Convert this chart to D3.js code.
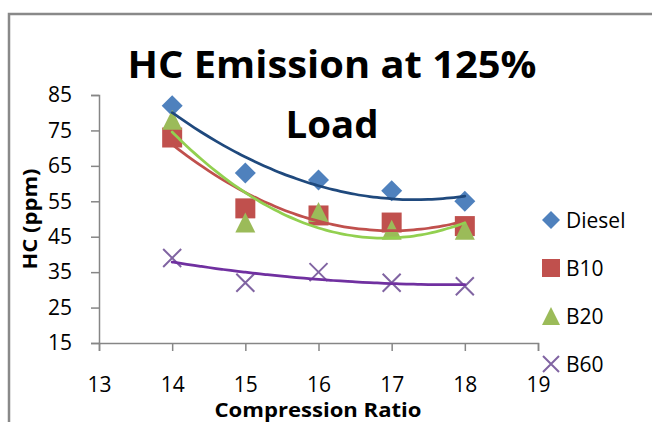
<!DOCTYPE html>
<html>
<head>
<meta charset="utf-8">
<script src="https://cdn.jsdelivr.net/npm/d3@7"></script>
<style>
  html, body { margin: 0; padding: 0; background: #fff; }
  svg { display: block; font-family: "Open Sans", "Liberation Sans", sans-serif; }
</style>
</head>
<body>
<svg id="chart" width="652" height="422"></svg>
<script>
// Compression ratios tested
const compressionRatio = [14, 15, 16, 17, 18];

// HC emission (ppm) at 125% load for each fuel
const dieselHC = [82, 63, 61, 58, 55];
const b10HC    = [73, 53, 51, 49, 48];
const b20HC    = [78, 49, 52, 47, 47];
const b60HC    = [39, 32, 35, 32, 31];

const seriesNames = ["Diesel", "B10", "B20", "B60"];
const yTicks = [15, 25, 35, 45, 55, 65, 75, 85];
const xTicks = [13, 14, 15, 16, 17, 18, 19];

const series = [
  { name: seriesNames[0], values: dieselHC, marker: "diamond",  fill: "#4F81BD", trend: "#1F497D" },
  { name: seriesNames[1], values: b10HC,    marker: "square",   fill: "#C0504D", trend: "#C0504D" },
  { name: seriesNames[2], values: b20HC,    marker: "triangle", fill: "#9BBB59", trend: "#92D050" },
  { name: seriesNames[3], values: b60HC,    marker: "cross",    fill: "#8064A2", trend: "#7030A0" }
];

const svg = d3.select("#chart");

// chart frame (top and left edges)
svg.append("path")
  .attr("d", "M9,422 L9,14 L652,14")
  .attr("fill", "none")
  .attr("stroke", "#898989")
  .attr("stroke-width", 2.5);

const x = d3.scaleLinear().domain([13, 19]).range([99, 538]);
const y = d3.scaleLinear().domain([15, 85]).range([343, 95]);

const axisColor = "#868686";

const gx = svg.append("g")
  .attr("transform", `translate(0,${y(15)})`)
  .call(d3.axisBottom(x).tickValues(xTicks).tickFormat(d3.format("d")).tickSize(8).tickPadding(26));
const gy = svg.append("g")
  .attr("transform", `translate(${x(13)},0)`)
  .call(d3.axisLeft(y).tickValues(yTicks).tickFormat(d3.format("d")).tickSize(8).tickPadding(19));

[gx, gy].forEach(g => {
  g.select(".domain").attr("stroke", axisColor).attr("stroke-width", 1.5);
  g.selectAll(".tick line").attr("stroke", axisColor).attr("stroke-width", 1.5);
  g.selectAll(".tick text")
    .attr("fill", "#000")
    .style("font-family", "'Open Sans', sans-serif")
    .style("font-size", "21px");
});

// marker shapes
function markerPath(type, s) {
  const h = s / 2;
  switch (type) {
    case "diamond":  return `M0,${-h} L${h},0 L0,${h} L${-h},0 Z`;
    case "square":   return `M${-h},${-h} H${h} V${h} H${-h} Z`;
    case "triangle": return `M0,${-h} L${h},${h} L${-h},${h} Z`;
    case "cross":    return `M${-h},${-h} L${h},${h} M${h},${-h} L${-h},${h}`;
  }
}

function drawMarker(g, type, color, size) {
  const p = g.append("path").attr("d", markerPath(type, size));
  if (type === "cross") {
    p.attr("fill", "none").attr("stroke", color).attr("stroke-width", 2);
  } else {
    p.attr("fill", color);
  }
}

// data markers
series.forEach(s => {
  const size = s.marker === "diamond" ? 21 : (s.marker === "cross" ? 18 : 20);
  compressionRatio.forEach((cr, i) => {
    const g = svg.append("g").attr("transform", `translate(${x(cr)},${y(s.values[i])})`);
    drawMarker(g, s.marker, s.fill, size);
  });
});

// second-order polynomial least-squares trendline
function quadFit(xs, ys) {
  const n = xs.length;
  let S = [0, 0, 0, 0, 0], T = [0, 0, 0];
  for (let i = 0; i < n; i++) {
    for (let k = 0; k < 5; k++) S[k] += Math.pow(xs[i], k);
    for (let k = 0; k < 3; k++) T[k] += ys[i] * Math.pow(xs[i], k);
  }
  const A = [[S[0], S[1], S[2], T[0]], [S[1], S[2], S[3], T[1]], [S[2], S[3], S[4], T[2]]];
  for (let c = 0; c < 3; c++) {
    for (let r = c + 1; r < 3; r++) {
      const f = A[r][c] / A[c][c];
      for (let k = c; k < 4; k++) A[r][k] -= f * A[c][k];
    }
  }
  const coef = [0, 0, 0];
  for (let r = 2; r >= 0; r--) {
    let v = A[r][3];
    for (let k = r + 1; k < 3; k++) v -= A[r][k] * coef[k];
    coef[r] = v / A[r][r];
  }
  return t => coef[0] + coef[1] * t + coef[2] * t * t;
}

const line = d3.line().x(d => x(d[0])).y(d => y(d[1])).curve(d3.curveBasis);
series.forEach(s => {
  const f = quadFit(compressionRatio, s.values);
  const pts = d3.range(0, 41).map(i => {
    const t = 14 + i * 0.1;
    return [t, f(t)];
  });
  svg.append("path")
    .datum(pts)
    .attr("d", line)
    .attr("fill", "none")
    .attr("stroke", s.trend)
    .attr("stroke-width", 2.75)
    .attr("stroke-linecap", "round");
});

// legend
const legend = svg.append("g");
series.forEach((s, i) => {
  const ly = 220 + i * 48;
  const g = legend.append("g").attr("transform", `translate(551,${ly})`);
  drawMarker(g, s.marker, s.fill, s.marker === "cross" ? 16 : 18);
  legend.append("text")
    .attr("x", 566).attr("y", ly)
    .attr("dy", "0.36em")
    .style("font-size", "21px")
    .text(s.name);
});

// title
const title = svg.append("text")
  .attr("text-anchor", "middle")
  .style("font-size", "37px")
  .style("font-weight", "bold");
title.append("tspan").attr("x", 332).attr("y", 78)
  .attr("textLength", 409).attr("lengthAdjust", "spacingAndGlyphs")
  .text("HC Emission at 125%");
title.append("tspan").attr("x", 332).attr("y", 138)
  .attr("textLength", 93).attr("lengthAdjust", "spacingAndGlyphs")
  .text("Load");

// axis titles
svg.append("text")
  .attr("x", 318).attr("y", 417)
  .attr("text-anchor", "middle")
  .attr("textLength", 207).attr("lengthAdjust", "spacingAndGlyphs")
  .style("font-size", "20px")
  .style("font-weight", "bold")
  .text("Compression Ratio");

svg.append("text")
  .attr("transform", `translate(37,219) rotate(-90)`)
  .attr("text-anchor", "middle")
  .attr("textLength", 101).attr("lengthAdjust", "spacingAndGlyphs")
  .style("font-size", "20px")
  .style("font-weight", "bold")
  .text("HC (ppm)");
</script>
</body>
</html>
